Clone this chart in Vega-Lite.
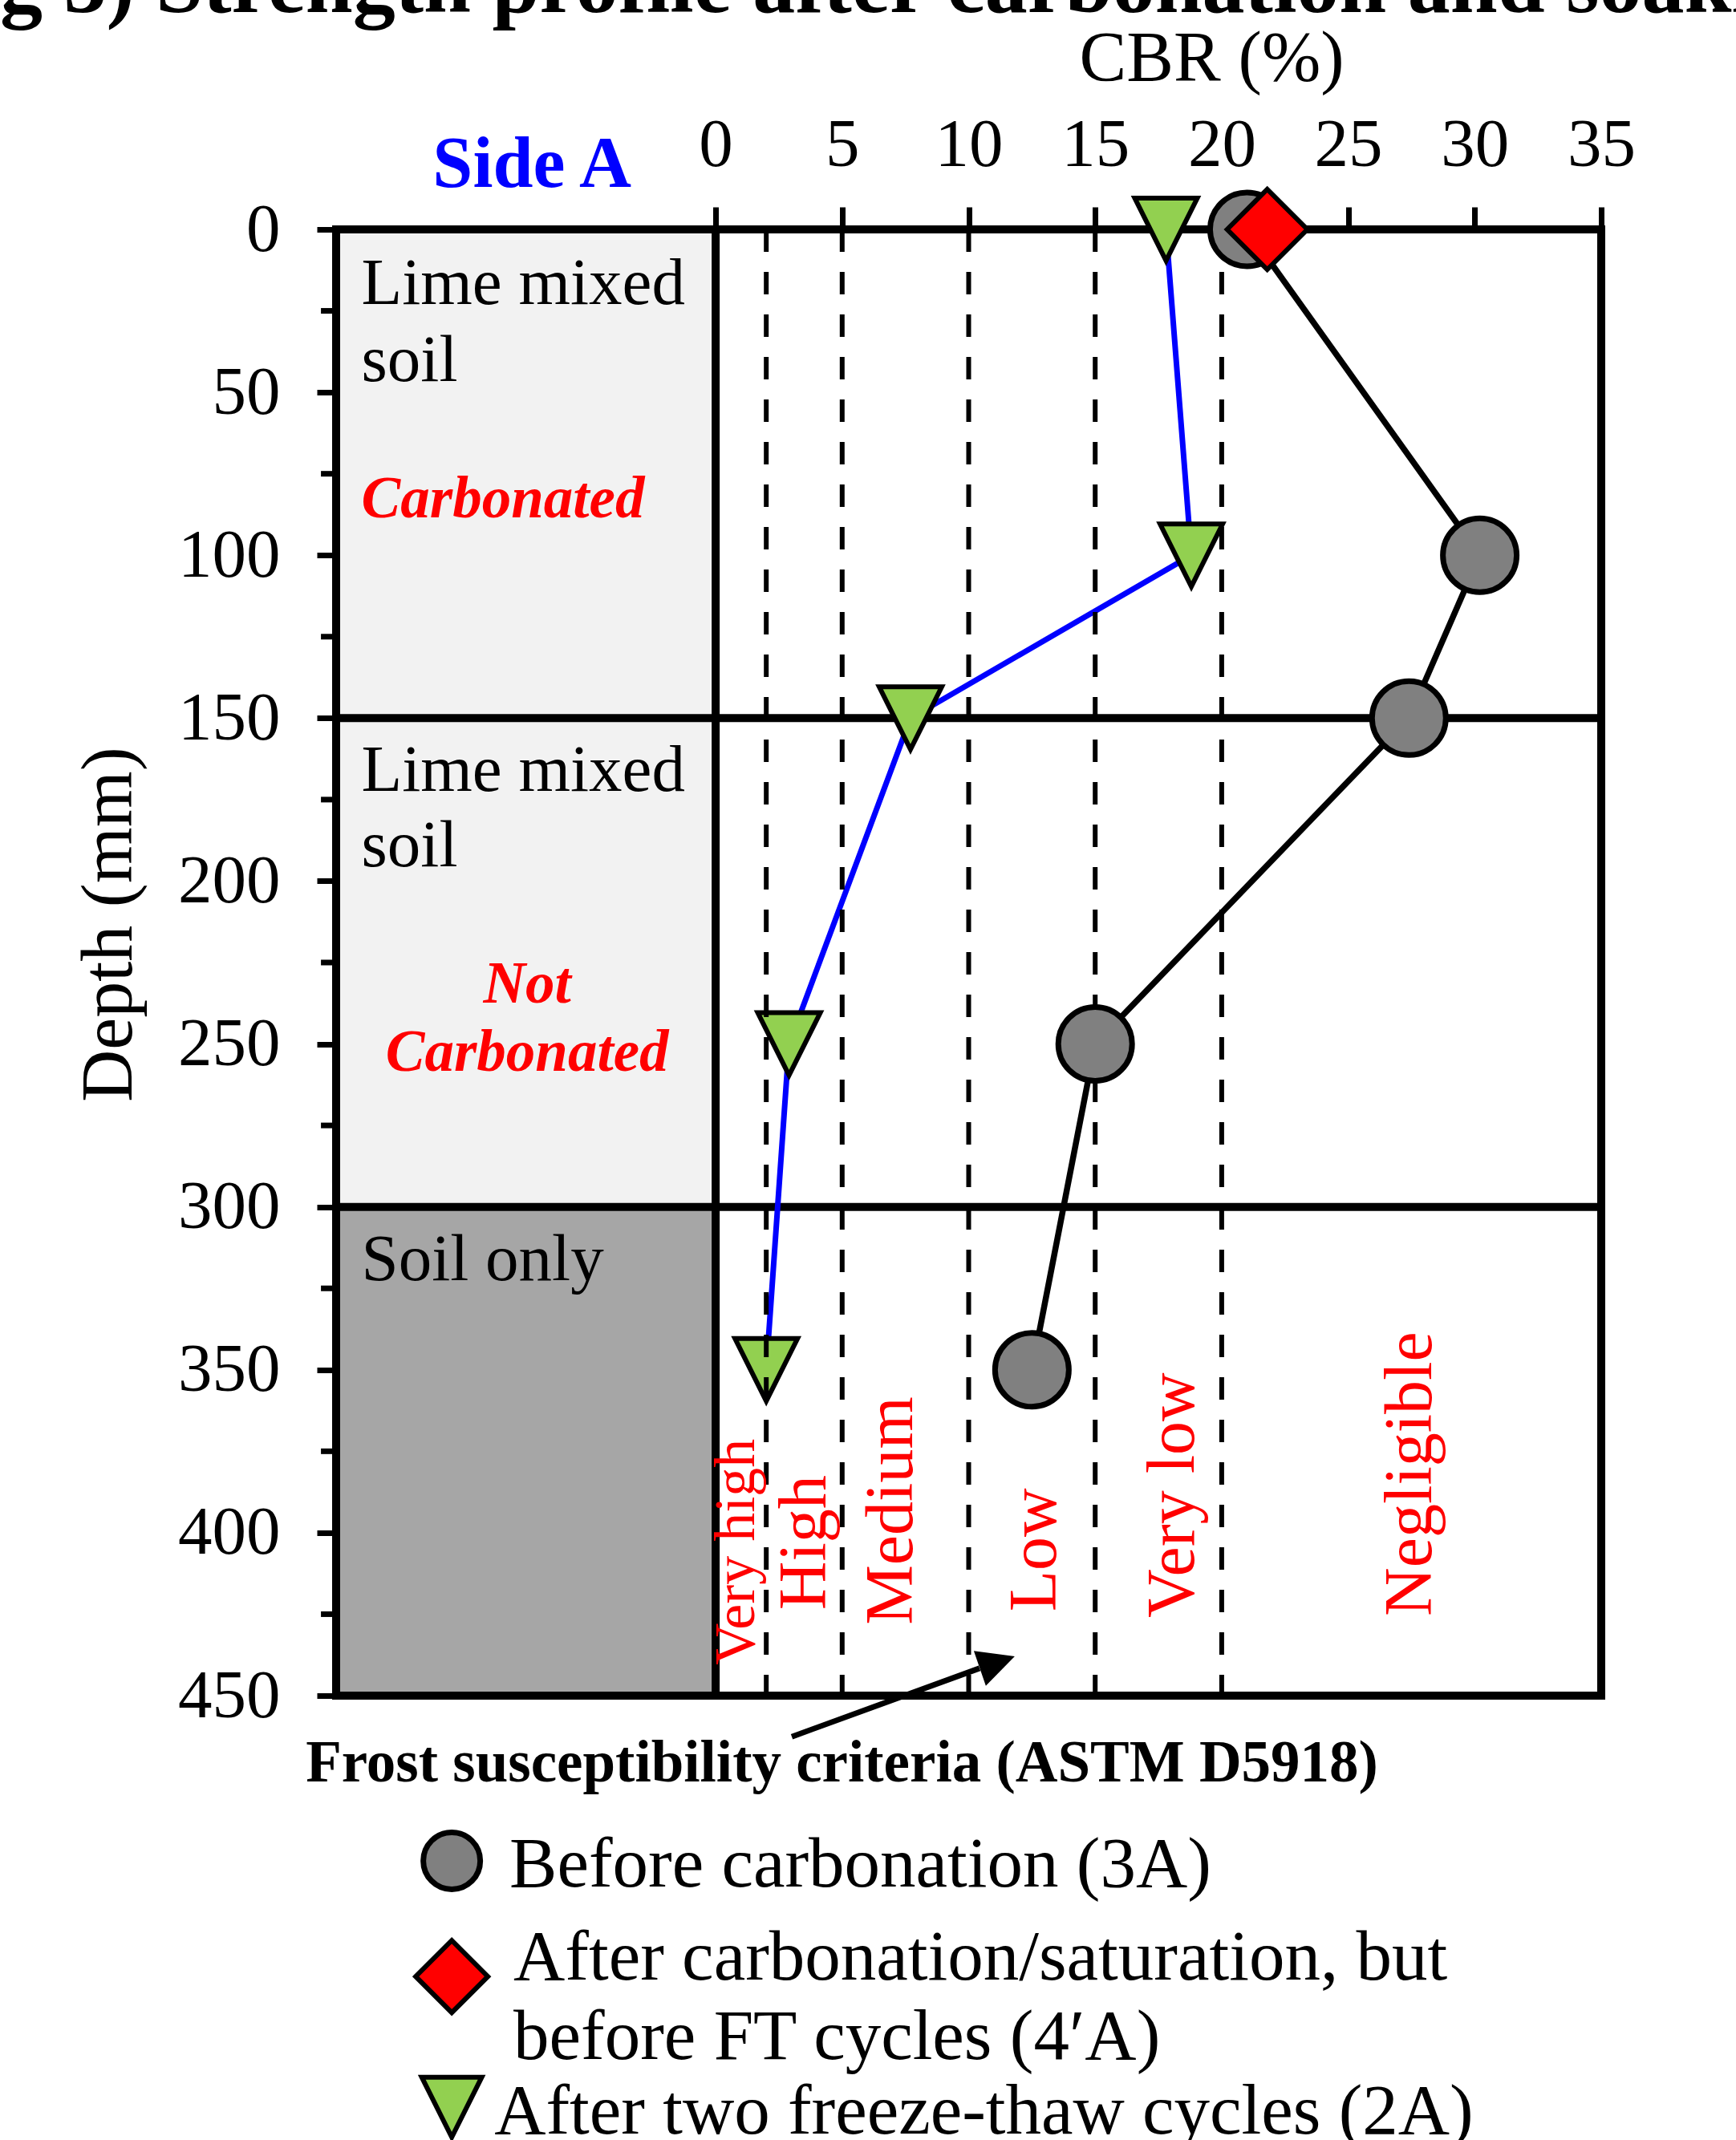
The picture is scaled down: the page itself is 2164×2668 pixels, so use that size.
{
  "$schema": "https://vega.github.io/schema/vega-lite/v6.json",
  "width": 1577,
  "height": 1828,
  "autosize": {"type": "none"},
  "padding": {"left": 419, "top": 286, "right": 168, "bottom": 554},
  "background": "white",
  "config": {
    "view": {"stroke": null},
    "font": "Liberation Serif",
    "axis": {"grid": false, "domain": false, "labelFont": "Liberation Serif", "titleFont": "Liberation Serif", "labelColor": "black", "titleColor": "black", "tickColor": "black", "titleFontWeight": "normal"}
  },
  "datasets": {
    "profiles": [
      {"series": "Before carbonation (3A)", "cbr": 21.0, "depth": 0},
      {"series": "Before carbonation (3A)", "cbr": 30.2, "depth": 100},
      {"series": "Before carbonation (3A)", "cbr": 27.4, "depth": 150},
      {"series": "Before carbonation (3A)", "cbr": 15.0, "depth": 250},
      {"series": "Before carbonation (3A)", "cbr": 12.5, "depth": 350},
      {"series": "After carbonation/saturation, but before FT cycles (4′A)", "cbr": 21.8, "depth": 0},
      {"series": "After two freeze-thaw cycles (2A)", "cbr": 17.8, "depth": 0},
      {"series": "After two freeze-thaw cycles (2A)", "cbr": 18.8, "depth": 100},
      {"series": "After two freeze-thaw cycles (2A)", "cbr": 7.7, "depth": 150},
      {"series": "After two freeze-thaw cycles (2A)", "cbr": 2.9, "depth": 250},
      {"series": "After two freeze-thaw cycles (2A)", "cbr": 2.0, "depth": 350}
    ]
  },
  "layer": [
    {
      "data": {"values": [
        {"zone": "Lime mixed soil", "top": 0, "bottom": 150},
        {"zone": "Lime mixed soil", "top": 150, "bottom": 300},
        {"zone": "Soil only", "top": 300, "bottom": 450}
      ]},
      "mark": {"type": "rect"},
      "encoding": {
        "x": {"datum": -15, "type": "quantitative", "scale": {"domain": [-15, 35], "nice": false, "zero": false},
          "axis": {"orient": "top", "values": [0, 5, 10, 15, 20, 25, 30, 35], "title": "CBR (%)", "titleFontSize": 88, "titleX": 1091, "titleY": -187, "titleAlign": "center", "titleBaseline": "alphabetic", "titleAngle": 0, "labelFontSize": 85, "labelBaseline": "alphabetic", "labelPadding": 52, "tickSize": 28, "tickWidth": 7, "labelFlush": false, "labelOverlap": false}},
        "x2": {"datum": 0},
        "y": {"field": "top", "type": "quantitative", "scale": {"domain": [0, 450], "nice": false, "reverse": true},
          "axis": {"orient": "left", "values": [0, 50, 100, 150, 200, 250, 300, 350, 400, 450], "title": "Depth (mm)", "titleFontSize": 90, "titleX": -256, "titleY": 866, "titleAlign": "center", "titleBaseline": "alphabetic", "titleAngle": 270, "labelFontSize": 85, "labelBaseline": "middle", "labelPadding": 46, "tickSize": 24, "tickWidth": 7, "labelFlush": false, "labelOverlap": false}},
        "y2": {"field": "bottom"},
        "color": {"field": "zone", "type": "nominal", "scale": {"domain": ["Lime mixed soil", "Soil only"], "range": ["#f2f2f2", "#a6a6a6"]}, "legend": null}
      }
    },
    {
      "data": {"values": [{"depth": 25}, {"depth": 75}, {"depth": 125}, {"depth": 175}, {"depth": 225}, {"depth": 275}, {"depth": 325}, {"depth": 375}, {"depth": 425}]},
      "mark": {"type": "rule", "color": "black", "strokeWidth": 7},
      "encoding": {
        "x": {"datum": -15.6, "type": "quantitative"},
        "x2": {"datum": -15},
        "y": {"field": "depth", "type": "quantitative"}
      }
    },
    {
      "data": {"values": [{"depth": 0}, {"depth": 150}, {"depth": 300}, {"depth": 450}]},
      "mark": {"type": "rule", "color": "black", "strokeWidth": 10, "strokeCap": "square"},
      "encoding": {
        "x": {"datum": -15, "type": "quantitative"},
        "x2": {"datum": 35},
        "y": {"field": "depth", "type": "quantitative"}
      }
    },
    {
      "data": {"values": [{"cbr": -15}, {"cbr": 0}, {"cbr": 35}]},
      "mark": {"type": "rule", "color": "black", "strokeWidth": 10, "strokeCap": "square"},
      "encoding": {
        "x": {"field": "cbr", "type": "quantitative"},
        "y": {"datum": 0, "type": "quantitative"},
        "y2": {"datum": 450}
      }
    },
    {
      "data": {"name": "profiles"},
      "transform": [{"filter": "datum.series === 'After two freeze-thaw cycles (2A)'"}],
      "mark": {"type": "line", "color": "#0000ff", "strokeWidth": 7},
      "encoding": {
        "x": {"field": "cbr", "type": "quantitative"},
        "y": {"field": "depth", "type": "quantitative"},
        "order": {"field": "depth", "type": "quantitative"}
      }
    },
    {
      "data": {"name": "profiles"},
      "transform": [{"filter": "datum.series === 'After two freeze-thaw cycles (2A)'"}],
      "mark": {"type": "point", "shape": "M-1,-1L1,-1L0,1Z", "filled": true, "fill": "#92d050", "stroke": "black", "strokeWidth": 6, "size": 6084, "opacity": 1},
      "encoding": {
        "x": {"field": "cbr", "type": "quantitative"},
        "y": {"field": "depth", "type": "quantitative"}
      }
    },
    {
      "data": {"values": [{"limit": 2}, {"limit": 5}, {"limit": 10}, {"limit": 15}, {"limit": 20}]},
      "mark": {"type": "rule", "color": "black", "strokeWidth": 6, "strokeDash": [28, 25]},
      "encoding": {
        "x": {"field": "limit", "type": "quantitative"},
        "y": {"datum": 0, "type": "quantitative"},
        "y2": {"datum": 450}
      }
    },
    {
      "data": {"name": "profiles"},
      "transform": [{"filter": "datum.series === 'Before carbonation (3A)'"}],
      "mark": {"type": "line", "color": "black", "strokeWidth": 7.5},
      "encoding": {
        "x": {"field": "cbr", "type": "quantitative"},
        "y": {"field": "depth", "type": "quantitative"},
        "order": {"field": "depth", "type": "quantitative"}
      }
    },
    {
      "data": {"name": "profiles"},
      "transform": [{"filter": "datum.series === 'Before carbonation (3A)'"}],
      "mark": {"type": "point", "shape": "circle", "filled": true, "fill": "#808080", "stroke": "black", "strokeWidth": 7, "size": 8464, "opacity": 1},
      "encoding": {
        "x": {"field": "cbr", "type": "quantitative"},
        "y": {"field": "depth", "type": "quantitative"}
      }
    },
    {
      "data": {"name": "profiles"},
      "transform": [{"filter": "datum.series === 'After carbonation/saturation, but before FT cycles (4′A)'"}],
      "mark": {"type": "point", "shape": "diamond", "filled": true, "fill": "#ff0000", "stroke": "black", "strokeWidth": 6, "size": 10000, "opacity": 1},
      "encoding": {
        "x": {"field": "cbr", "type": "quantitative"},
        "y": {"field": "depth", "type": "quantitative"}
      }
    },
    {
      "data": {"values": [
        {"t": "Lime mixed", "cbr": -14, "depth": 22.9},
        {"t": "soil", "cbr": -14, "depth": 46.5},
        {"t": "Lime mixed", "cbr": -14, "depth": 172.3},
        {"t": "soil", "cbr": -14, "depth": 195.5},
        {"t": "Soil only", "cbr": -14, "depth": 322.5}
      ]},
      "mark": {"type": "text", "align": "left", "baseline": "alphabetic", "font": "Liberation Serif", "fontSize": 83, "color": "black"},
      "encoding": {
        "x": {"field": "cbr", "type": "quantitative"},
        "y": {"field": "depth", "type": "quantitative"},
        "text": {"field": "t"}
      }
    },
    {
      "data": {"values": [{"t": "Carbonated", "cbr": -14, "depth": 88.4}]},
      "mark": {"type": "text", "align": "left", "baseline": "alphabetic", "font": "Liberation Serif", "fontSize": 73, "fontWeight": "bold", "fontStyle": "italic", "color": "#ff0000"},
      "encoding": {
        "x": {"field": "cbr", "type": "quantitative"},
        "y": {"field": "depth", "type": "quantitative"},
        "text": {"field": "t"}
      }
    },
    {
      "data": {"values": [{"t": "Not", "cbr": -7.45, "depth": 237.4}, {"t": "Carbonated", "cbr": -7.45, "depth": 258.3}]},
      "mark": {"type": "text", "align": "center", "baseline": "alphabetic", "font": "Liberation Serif", "fontSize": 73, "fontWeight": "bold", "fontStyle": "italic", "color": "#ff0000"},
      "encoding": {
        "x": {"field": "cbr", "type": "quantitative"},
        "y": {"field": "depth", "type": "quantitative"},
        "text": {"field": "t"}
      }
    },
    {
      "data": {"values": [
        {"t": "High", "cbr": 4.34, "depth": 423.7},
        {"t": "Medium", "cbr": 7.76, "depth": 428.3},
        {"t": "Low", "cbr": 13.44, "depth": 424.2},
        {"t": "Very low", "cbr": 18.89, "depth": 426.1},
        {"t": "Negligible", "cbr": 28.28, "depth": 425.6}
      ]},
      "mark": {"type": "text", "align": "left", "baseline": "alphabetic", "angle": 270, "font": "Liberation Serif", "fontSize": 84, "color": "#ff0000"},
      "encoding": {
        "x": {"field": "cbr", "type": "quantitative"},
        "y": {"field": "depth", "type": "quantitative"},
        "text": {"field": "t"}
      }
    },
    {
      "data": {"values": [{"t": "Very high", "cbr": 1.52, "depth": 440.6}]},
      "mark": {"type": "text", "align": "left", "baseline": "alphabetic", "angle": 270, "font": "Liberation Serif", "fontSize": 72, "color": "#ff0000"},
      "encoding": {
        "x": {"field": "cbr", "type": "quantitative"},
        "y": {"field": "depth", "type": "quantitative"},
        "text": {"field": "t"}
      }
    },
    {
      "data": {"values": [{"t": "Side A", "cbr": -7.26, "depth": -13}]},
      "mark": {"type": "text", "align": "center", "baseline": "alphabetic", "font": "Liberation Serif", "fontSize": 90, "fontWeight": "bold", "color": "#0000ff"},
      "encoding": {
        "x": {"field": "cbr", "type": "quantitative"},
        "y": {"field": "depth", "type": "quantitative"},
        "text": {"field": "t"}
      }
    },
    {
      "data": {"values": [{"t": "Fig 3) Strength profile after carbonation and soaking", "cbr": -31.27, "depth": -66.7}]},
      "mark": {"type": "text", "align": "left", "baseline": "alphabetic", "font": "Liberation Serif", "fontSize": 106, "fontWeight": "bold", "color": "black"},
      "encoding": {
        "x": {"field": "cbr", "type": "quantitative"},
        "y": {"field": "depth", "type": "quantitative"},
        "text": {"field": "t"}
      }
    },
    {
      "data": {"values": [{"t": "Frost susceptibility criteria (ASTM D5918)", "cbr": -16.2, "depth": 476.3}]},
      "mark": {"type": "text", "align": "left", "baseline": "alphabetic", "font": "Liberation Serif", "fontSize": 73, "fontWeight": "bold", "color": "black"},
      "encoding": {
        "x": {"field": "cbr", "type": "quantitative"},
        "y": {"field": "depth", "type": "quantitative"},
        "text": {"field": "t"}
      }
    },
    {
      "data": {"values": [{"from_cbr": 3.01, "from_depth": 462.6, "to_cbr": 10.43, "to_depth": 441.6}]},
      "mark": {"type": "rule", "color": "black", "strokeWidth": 7},
      "encoding": {
        "x": {"field": "from_cbr", "type": "quantitative"},
        "y": {"field": "from_depth", "type": "quantitative"},
        "x2": {"field": "to_cbr"},
        "y2": {"field": "to_depth"}
      }
    },
    {
      "data": {"values": [{"cbr": 11.13, "depth": 439.8}]},
      "mark": {"type": "point", "shape": "M0,-1L1,1L-1,1Z", "filled": true, "fill": "black", "strokeWidth": 0, "size": 2116, "angle": 71, "opacity": 1},
      "encoding": {
        "x": {"field": "cbr", "type": "quantitative"},
        "y": {"field": "depth", "type": "quantitative"}
      }
    },
    {
      "data": {"values": [{"cbr": -10.43, "depth": 500.7}]},
      "mark": {"type": "point", "shape": "circle", "filled": true, "fill": "#808080", "stroke": "black", "strokeWidth": 7, "size": 5041, "opacity": 1},
      "encoding": {
        "x": {"field": "cbr", "type": "quantitative"},
        "y": {"field": "depth", "type": "quantitative"}
      }
    },
    {
      "data": {"values": [{"cbr": -10.43, "depth": 536.2}]},
      "mark": {"type": "point", "shape": "diamond", "filled": true, "fill": "#ff0000", "stroke": "black", "strokeWidth": 6, "size": 8100, "opacity": 1},
      "encoding": {
        "x": {"field": "cbr", "type": "quantitative"},
        "y": {"field": "depth", "type": "quantitative"}
      }
    },
    {
      "data": {"values": [{"cbr": -10.43, "depth": 576.3}]},
      "mark": {"type": "point", "shape": "M-1,-1L1,-1L0,1Z", "filled": true, "fill": "#92d050", "stroke": "black", "strokeWidth": 6, "size": 5600, "opacity": 1},
      "encoding": {
        "x": {"field": "cbr", "type": "quantitative"},
        "y": {"field": "depth", "type": "quantitative"}
      }
    },
    {
      "data": {"values": [
        {"t": "Before carbonation (3A)", "cbr": -8.15, "depth": 508.6},
        {"t": "After carbonation/saturation, but", "cbr": -7.99, "depth": 537.1},
        {"t": "before FT cycles (4′A)", "cbr": -7.99, "depth": 561.5},
        {"t": "After two freeze-thaw cycles (2A)", "cbr": -8.75, "depth": 584.4}
      ]},
      "mark": {"type": "text", "align": "left", "baseline": "alphabetic", "font": "Liberation Serif", "fontSize": 89, "color": "black"},
      "encoding": {
        "x": {"field": "cbr", "type": "quantitative"},
        "y": {"field": "depth", "type": "quantitative"},
        "text": {"field": "t"}
      }
    }
  ]
}
